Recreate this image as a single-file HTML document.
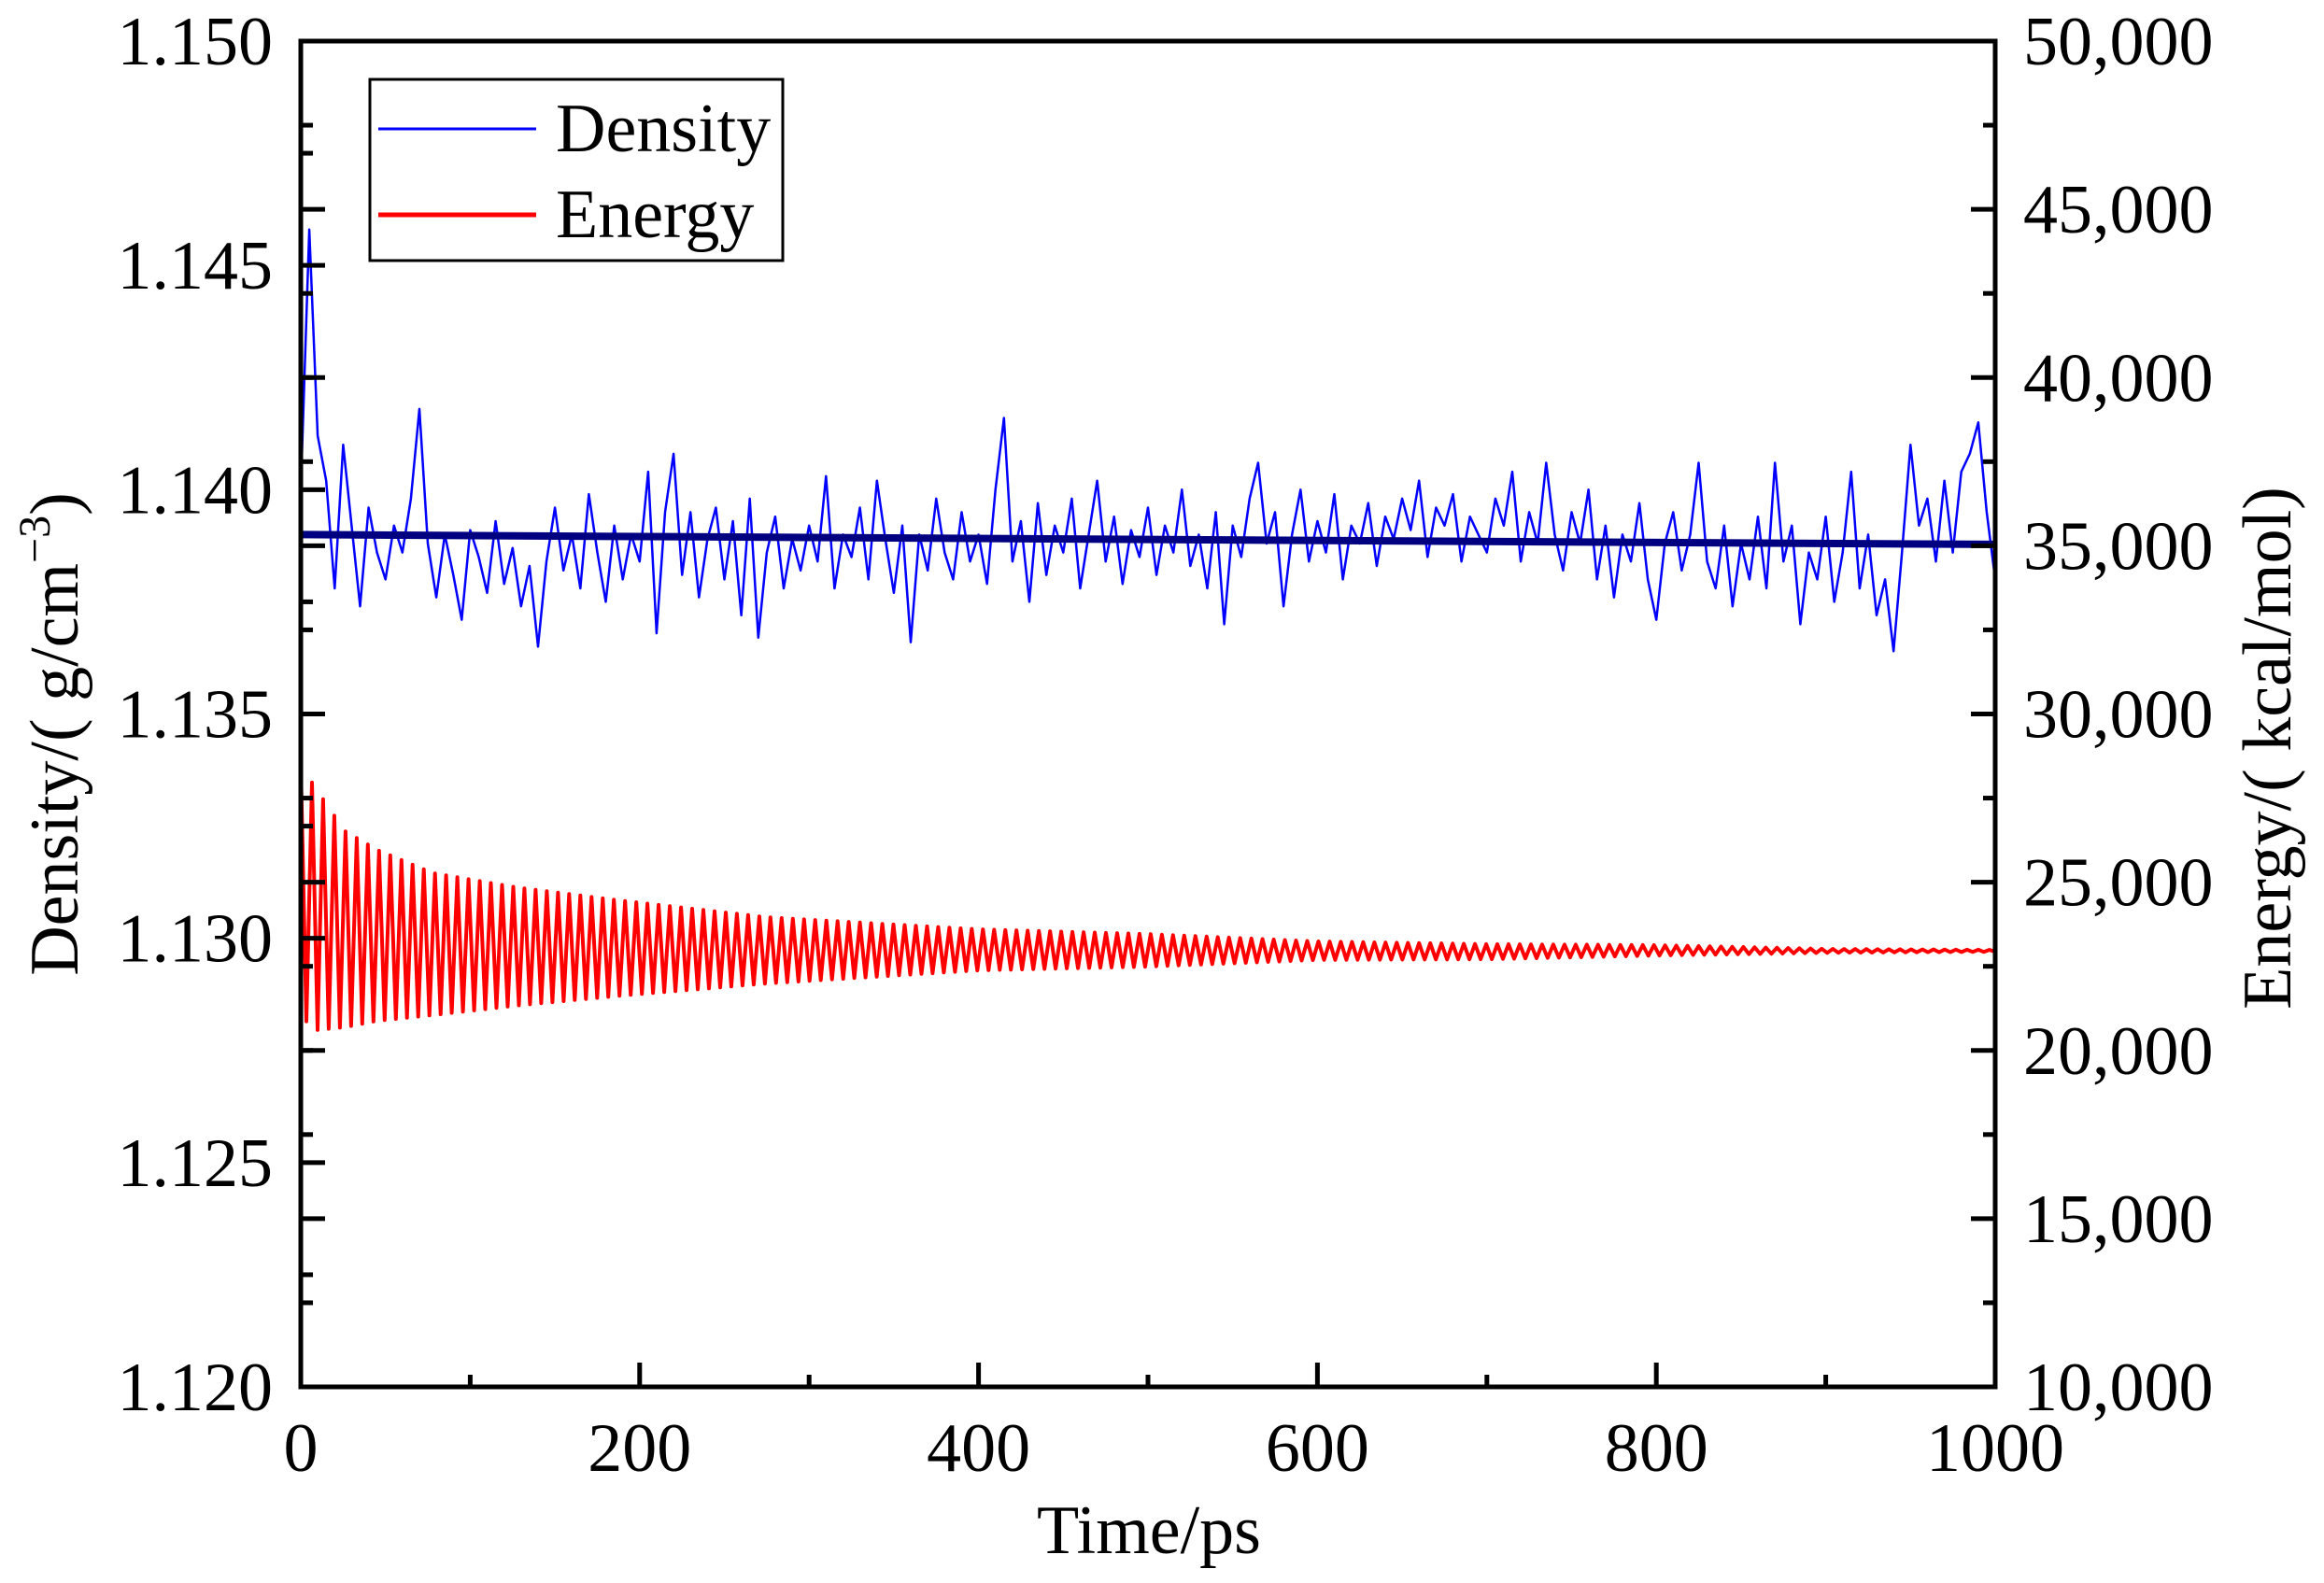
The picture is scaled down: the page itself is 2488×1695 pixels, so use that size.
<!DOCTYPE html>
<html><head><meta charset="utf-8"><style>
html,body{margin:0;padding:0;background:#fff;}
svg{display:block;font-family:"Liberation Serif","Times New Roman",serif;}
</style></head><body>
<svg id="chart" width="2488" height="1695" viewBox="0 0 2488 1695" xmlns="http://www.w3.org/2000/svg">
<rect width="2488" height="1695" fill="#fff"/>
<g id="plot"></g>
<g id="axes"></g>
<text x="1230" y="1663" font-size="74" text-anchor="middle">Time/ps</text>
<text transform="translate(83,786) rotate(-90)" font-size="74" text-anchor="middle">Density/( g/cm<tspan font-size="48" dy="-30">−3</tspan><tspan dy="30">)</tspan></text>
<text transform="translate(2452,801) rotate(-90)" font-size="74" text-anchor="middle">Energy/( kcal/mol)</text>
<g>
<rect x="396" y="85" width="442" height="194" fill="#fff" stroke="#000" stroke-width="3"/>
<line x1="405" y1="138" x2="574" y2="138" stroke="#0000ff" stroke-width="3"/>
<text x="595" y="162" font-size="74">Density</text>
<line x1="405" y1="230" x2="574" y2="230" stroke="#ff0000" stroke-width="5"/>
<text x="595" y="254" font-size="74">Energy</text>
</g>
</svg>
<script>
// ---- data ----
const xTicks = [0,200,400,600,800,1000];
const xMinorTicks = [100,300,500,700,900];
const densityTicks = [1.120,1.125,1.130,1.135,1.140,1.145,1.150];
const densityTickLabels = ["1.120","1.125","1.130","1.135","1.140","1.145","1.150"];
const energyTicks = [10000,15000,20000,25000,30000,35000,40000,45000,50000];
const energyTickLabels = ["10,000","15,000","20,000","25,000","30,000","35,000","40,000","45,000","50,000"];
const densityStep = 5;
const density = [
1.1400,1.1458,1.1412,1.1402,1.1378,1.1410,1.1392,1.1374,1.1396,1.1386,
1.1380,1.1392,1.1386,1.1398,1.1418,1.1388,1.1376,1.1390,1.1381,1.1371,
1.1391,1.1385,1.1377,1.1393,1.1379,1.1387,1.1374,1.1383,1.1365,1.1384,
1.1396,1.1382,1.1390,1.1378,1.1399,1.1386,1.1375,1.1392,1.1380,1.1390,
1.1384,1.1404,1.1368,1.1395,1.1408,1.1381,1.1395,1.1376,1.1389,1.1396,
1.1380,1.1393,1.1372,1.1398,1.1367,1.1386,1.1394,1.1378,1.1389,1.1382,
1.1392,1.1384,1.1403,1.1378,1.1390,1.1385,1.1396,1.1380,1.1402,1.1389,
1.1377,1.1392,1.1366,1.1390,1.1382,1.1398,1.1386,1.1380,1.1395,1.1384,
1.1390,1.1379,1.1400,1.1416,1.1384,1.1393,1.1375,1.1397,1.1381,1.1392,
1.1386,1.1398,1.1378,1.1390,1.1402,1.1384,1.1394,1.1379,1.1391,1.1385,
1.1396,1.1381,1.1392,1.1386,1.1400,1.1383,1.1390,1.1378,1.1395,1.1370,
1.1392,1.1385,1.1398,1.1406,1.1388,1.1395,1.1374,1.1390,1.1400,1.1384,
1.1393,1.1386,1.1399,1.1380,1.1392,1.1388,1.1397,1.1383,1.1394,1.1389,
1.1398,1.1391,1.1402,1.1385,1.1396,1.1392,1.1399,1.1384,1.1394,1.1390,
1.1386,1.1398,1.1392,1.1404,1.1384,1.1395,1.1388,1.1406,1.1390,1.1382,
1.1395,1.1388,1.1400,1.1380,1.1392,1.1376,1.1390,1.1384,1.1397,1.1380,
1.1371,1.1388,1.1395,1.1382,1.1390,1.1406,1.1384,1.1378,1.1392,1.1374,
1.1388,1.1380,1.1394,1.1378,1.1406,1.1384,1.1392,1.1370,1.1386,1.1380,
1.1394,1.1375,1.1386,1.1404,1.1378,1.1390,1.1372,1.1380,1.1364,1.1386,
1.1410,1.1392,1.1398,1.1384,1.1402,1.1386,1.1404,1.1408,1.1415,1.1395,
1.1380];
const densityFitX = [0,1000];
const densityFit = [1.1390,1.13878];
const energyEnvTimes = [0,8,26,45,78,127,183,275,400,500,600,700,800,900,1000];
const energyUpper = [28500,27850,26520,25960,25270,24850,24490,23960,23600,23460,23240,23160,23130,23020,22990];
const energyLower = [21050,20600,20690,20880,21050,21330,21600,21990,22380,22490,22690,22710,22820,22900,22930];
const energyHalfPeriod = 3.3;

// ---- scales ----
const L=322,R=2136,T=44,B=1485;
const xS = t => L + (t-0)/(1000-0)*(R-L);
const yD = v => B - (v-1.120)/(1.150-1.120)*(B-T);
const yE = v => B - (v-10000)/(50000-10000)*(B-T);
const NS="http://www.w3.org/2000/svg";
const plot=document.getElementById('plot'), axes=document.getElementById('axes');
function mk(tag,attrs,parent){const e=document.createElementNS(NS,tag);for(const k in attrs)e.setAttribute(k,attrs[k]);parent.appendChild(e);return e;}
function interp(xs,ys,t){for(let i=0;i<xs.length-1;i++){if(t<=xs[i+1]){const f=(t-xs[i])/(xs[i+1]-xs[i]);return ys[i]+f*(ys[i+1]-ys[i]);}}return ys[ys.length-1];}

// energy zigzag
let pts=[];let k=0;
for(let t=0;t<=1000;t+=energyHalfPeriod,k++){
  const v = (k%2===0)?interp(energyEnvTimes,energyUpper,t):interp(energyEnvTimes,energyLower,t);
  pts.push(xS(t).toFixed(1)+','+yE(v).toFixed(1));
}
const eLine=mk('polyline',{points:pts.join(' '),fill:'none',stroke:'#ff0000','stroke-width':4,'stroke-linejoin':'round'},plot);



// density series
const dpts=density.map((v,i)=>xS(i*densityStep).toFixed(1)+','+yD(v).toFixed(1));
const dLine=mk('polyline',{points:dpts.join(' '),fill:'none',stroke:'#0000ff','stroke-width':2.5,'stroke-linejoin':'round'},plot);



// fit line
const fLine=mk('line',{x1:xS(densityFitX[0]),y1:yD(densityFit[0]),x2:xS(densityFitX[1]),y2:yD(densityFit[1]),stroke:'#000080','stroke-width':8},plot);



// frame
const fr=mk('path',{d:`M${L} ${T} H${R} V${B} H${L} Z`,fill:'none',stroke:'#000','stroke-width':5,'stroke-linejoin':'miter'},axes);



function tick(x1,y1,x2,y2,name){const e=mk('line',{x1,y1,x2,y2,stroke:'#000','stroke-width':5},axes);

}
function label(x,y,txt,anchor,name){const e=mk('text',{x,y,'font-size':74,'text-anchor':anchor},axes);e.textContent=txt;

}

const MAJ=26,MIN=13;
// x ticks
xTicks.forEach((t,i)=>{tick(xS(t),B,xS(t),B-MAJ,'x-tick');label(xS(t),1575,String(t),'middle','x-tick-label');});
xMinorTicks.forEach(t=>tick(xS(t),B,xS(t),B-MIN,'x-minor-tick'));
// density ticks on left
densityTicks.forEach((v,i)=>{tick(L,yD(v),L+MAJ,yD(v),'left-y-tick');label(292,yD(v)+25,densityTickLabels[i],'end','left-y-tick-label');
  if(i<densityTicks.length-1){const m=(v+densityTicks[i+1])/2;tick(L,yD(m),L+MIN,yD(m),'left-y-minor-tick');}});
// energy ticks on right (and mirrored on left)
energyTicks.forEach((v,i)=>{tick(R,yE(v),R-MAJ,yE(v),'right-y-tick');tick(L,yE(v),L+MAJ,yE(v),'left-mirror-tick');
  label(2166,yE(v)+25,energyTickLabels[i],'start','right-y-tick-label');
  if(i<energyTicks.length-1){const m=(v+energyTicks[i+1])/2;tick(R,yE(m),R-MIN,yE(m),'right-y-minor-tick');tick(L,yE(m),L+MIN,yE(m),'left-mirror-minor-tick');}});
</script>
</body></html>
